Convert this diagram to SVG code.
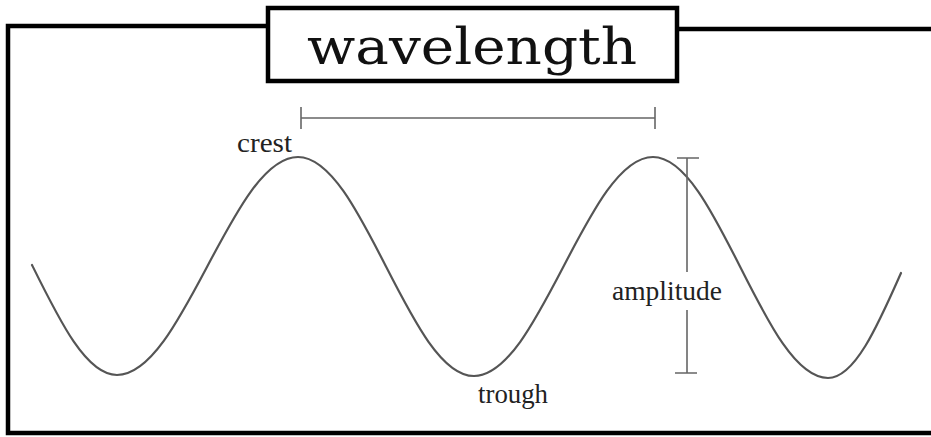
<svg xmlns="http://www.w3.org/2000/svg" width="931" height="437" viewBox="0 0 931 437">
<style>
.frame{fill:none;stroke:#000;stroke-width:4.5;stroke-linejoin:miter}
.wave{fill:none;stroke:#555;stroke-width:2.2;stroke-linecap:round}
.dim{fill:none;stroke:#666;stroke-width:1.6}
.lbl{font-family:"Liberation Serif","Times New Roman",serif;font-size:27px;fill:#222}
.title{font-family:"DejaVu Serif",serif;font-size:50px;fill:#111}
</style>
<rect width="931" height="437" fill="#fff"/>
<g id="frame">
<path class="frame" d="M268,26 H8 V433 H931"/>
<path class="frame" d="M677,29 H931"/>
</g>
<g id="title">
<rect class="frame" x="268" y="8" width="409" height="73"/>
<text class="title" x="472" y="64" text-anchor="middle" textLength="330" lengthAdjust="spacingAndGlyphs">wavelength</text>
</g>
<g id="wave">
<path class="wave" d="M32,265 C59.7,321 86.2,375 117,375 C182.8,375 232.2,157 298,157 C362,157 410,376 474,376 C539,376 588,157 653,157 C716.6,157 764.4,378 828,378 C854.4,378 877.2,327 901,273"/>
</g>
<g id="connectors">
<path class="dim" d="M301,118 H655 M301,107 V129 M655,107 V129"/>
<path class="dim" d="M687,158 V272 M687,310 V373 M677,158 H699 M675,373 H697"/>
</g>
<g id="labels">
<text class="lbl" x="237" y="152" textLength="55" lengthAdjust="spacingAndGlyphs">crest</text>
<text class="lbl" x="612" y="300" textLength="110" lengthAdjust="spacingAndGlyphs">amplitude</text>
<text class="lbl" x="478" y="403" textLength="70" lengthAdjust="spacingAndGlyphs">trough</text>
</g>
</svg>
